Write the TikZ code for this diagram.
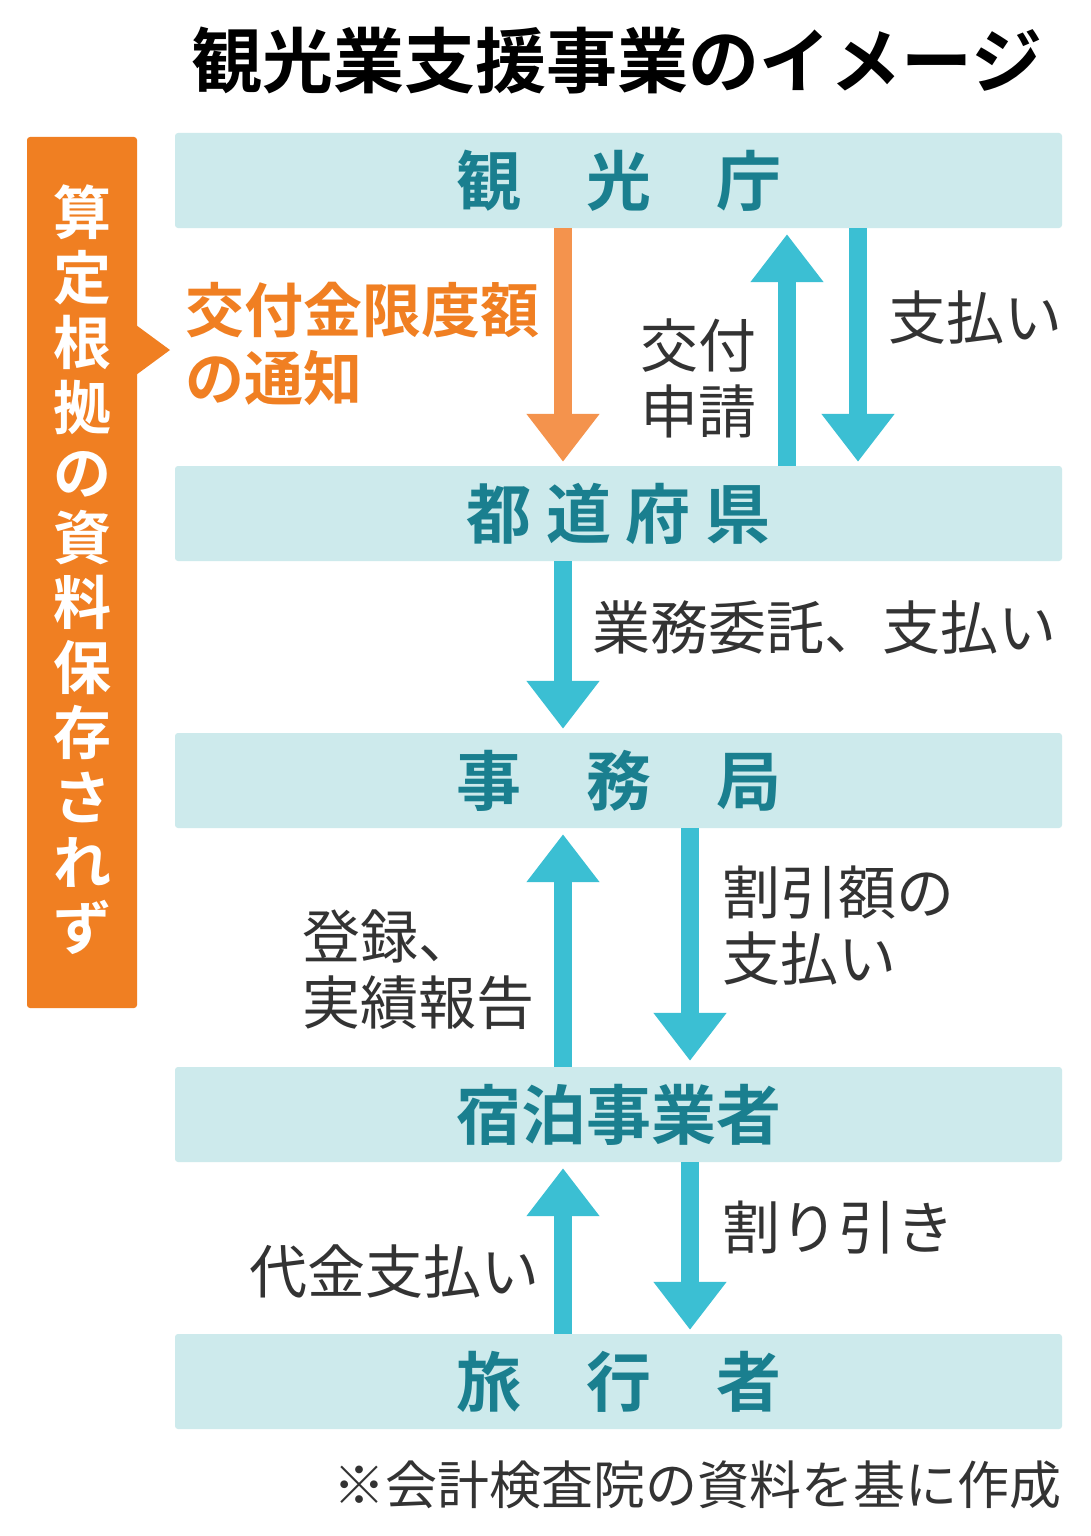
\documentclass[tikz,border=0pt]{standalone}
\usepackage{fontspec}
\newfontfamily\jp{Noto Sans CJK JP}[BoldFont={Noto Sans CJK JP Bold}]
\usetikzlibrary{arrows.meta}
\definecolor{boxc}{HTML}{CDEAEC}
\definecolor{teal}{HTML}{1A7F8F}
\definecolor{cy}{HTML}{3BBFD3}
\definecolor{orb}{HTML}{F07F22}
\definecolor{ora}{HTML}{F4934D}
\definecolor{tx}{HTML}{333333}
\begin{document}
\begin{tikzpicture}[x=1pt,y=-1pt,
 box/.style={fill=boxc,minimum width=887pt,minimum height=95pt,inner sep=0,rounded corners=3pt,font=\jp\bfseries\fontsize{65}{75}\selectfont,text=teal},
 arr/.style={line width=18pt,-{Triangle[width=70pt,length=48pt]}},
 lab/.style={font=\jp\fontsize{58}{66}\selectfont,text=tx,inner sep=0}]
\useasboundingbox (0,0) rectangle (1090,1536);
\fill[white] (0,0) rectangle (1090,1536);
\node[font=\jp\bfseries\fontsize{71}{80}\selectfont] (title) at (617,60) {観光業支援事業のイメージ};
\node[box] (b1) at (618.5,180.5) {観　光　庁};
\node[box] (b2) at (618.5,513.5) {都 道 府 県};
\node[box] (b3) at (618.5,780.5) {事　務　局};
\node[box] (b4) at (618.5,1114.5) {宿泊事業者};
\node[box] (b5) at (618.5,1381.5) {旅　行　者};
% sidebar
\fill[orb,rounded corners=3pt] (27,137) rectangle (137,1008);
\fill[orb] (136,325) -- (170,350) -- (136,375) -- cycle;
\node[text=white,font=\jp\bfseries\fontsize{58}{65}\selectfont,align=center,inner sep=0] (side) at (82,570)
 {算\\定\\根\\拠\\の\\資\\料\\保\\存\\さ\\れ\\ず};
% arrows
\draw[arr,ora] ([xshift=-55.5pt]b1.south) -- ([xshift=-55.5pt,yshift=4pt]b2.north);
\draw[arr,cy] ([xshift=168.5pt]b2.north) -- ([xshift=168.5pt,yshift=-6pt]b1.south);
\draw[arr,cy] ([xshift=239.5pt]b1.south) -- ([xshift=239.5pt,yshift=4pt]b2.north);
\draw[arr,cy] ([xshift=-55.5pt]b2.south) -- ([xshift=-55.5pt,yshift=4pt]b3.north);
\draw[arr,cy] ([xshift=-55.5pt]b4.north) -- ([xshift=-55.5pt,yshift=-6pt]b3.south);
\draw[arr,cy] ([xshift=71.5pt]b3.south) -- ([xshift=71.5pt,yshift=6pt]b4.north);
\draw[arr,cy] ([xshift=-55.5pt]b5.north) -- ([xshift=-55.5pt,yshift=-6pt]b4.south);
\draw[arr,cy] ([xshift=71.5pt]b4.south) -- ([xshift=71.5pt,yshift=4pt]b5.north);
% labels
\node[text=orb,font=\jp\bfseries\fontsize{59}{68}\selectfont,align=left,anchor=west,inner sep=0] (l1) at (185,344) {交付金限度額\\の通知};
\node[lab,align=right,anchor=east] (l2) at (757,378) {交付\\申請};
\node[lab,anchor=west] (l3) at (888,318) {支払い};
\node[lab,anchor=west] (l4) at (592,628) {業務委託、支払い};
\node[lab,align=left,anchor=west] (l5) at (722,926) {割引額の\\支払い};
\node[lab,align=left,anchor=west] (l6) at (302,970) {登録、\\実績報告};
\node[lab,anchor=west] (l7) at (722,1228) {割り引き};
\node[lab,anchor=east] (l8) at (540,1272) {代金支払い};
\node[lab,anchor=east,font=\jp\fontsize{52}{60}\selectfont] (fn) at (1062,1485) {※会計検査院の資料を基に作成};
\end{tikzpicture}
\end{document}
